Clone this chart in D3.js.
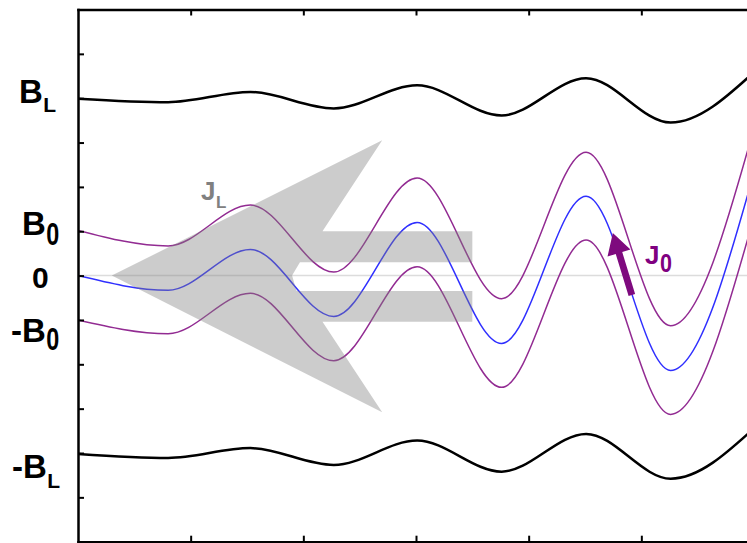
<!DOCTYPE html>
<html>
<head>
<meta charset="utf-8">
<title>field lines</title>
<script src="https://cdn.jsdelivr.net/npm/d3@7"></script>
<style>
  body { margin: 0; background: #fff; }
  svg { display: block; }
  text { font-family: "Liberation Sans", Arial, sans-serif; font-weight: bold; }
</style>
</head>
<body>
<svg id="chart" width="747" height="543"></svg>
<script>
// extrema positions (x in tick units, left axis = 0)
const xPoints   = [0, 0.80, 1.53, 2.27, 3.01, 3.76, 4.51, 5.26, 6.01];
// the five field lines, same x positions
const lineBL    = [3.99, 3.91, 4.14, 3.77, 4.29, 3.61, 4.45, 3.45, 4.61];
const lineB0    = [1.02, 0.67, 1.59, 0.08, 2.20, -0.52, 2.78, -1.13, 3.42];
const lineZero  = [0.00, -0.33, 0.59, -0.92, 1.20, -1.53, 1.79, -2.14, 2.42];
const lineNegB0 = [-1.00, -1.31, -0.40, -1.92, 0.20, -2.52, 0.80, -3.13, 1.42];
const lineNegBL = [-4.02, -4.11, -3.89, -4.27, -3.72, -4.42, -3.57, -4.58, -3.42];

const xTicks = [1, 2, 3, 4, 5, 6];
const yTicks = [-5, -4, -3, -2, -1, 0, 1, 2, 3, 4, 5];

// y axis labels: main text, subscript, value where it sits
const labelMain  = ["B", "B", "0", "-B", "-B"];
const labelSub   = ["L", "0", "", "0", "L"];
const labelValue = [4, 1, 0, -1, -4];

// big grey arrow J_L (data units) and the little J_0 arrow (tail, tip)
const arrowJL = [[0.30, 0], [2.70, 3.05], [2.17, 1.0], [3.50, 1.0], [3.50, 0.30],
                 [1.97, 0.30], [1.90, 0], [1.94, -0.35], [3.50, -0.35], [3.50, -1.04],
                 [2.17, -1.04], [2.70, -3.08]];
const arrowJ0 = [[4.916, -0.44], [4.747, 0.96]];

var svg = d3.select("#chart");

var x = d3.scaleLinear([0, 6], [78, 754]);
var y = d3.scaleLinear([-6, 6], [541.7, 9.5]);

// clip to the frame
svg.append("clipPath").attr("id", "plot")
  .append("rect").attr("x", 78).attr("y", 9.5).attr("width", 700).attr("height", 532.2);

var plot = svg.append("g").attr("clip-path", "url(#plot)");

// faint zero line
plot.append("line")
  .attr("x1", x(0)).attr("x2", x(6))
  .attr("y1", y(0)).attr("y2", y(0))
  .attr("stroke", "#dcdcdc").attr("stroke-width", 1.5);

var line = d3.line()
  .x(d => x(d[0]))
  .y(d => y(d[1]))
  .curve(d3.curveMonotoneX);

var series = [
  {v: lineBL,    color: "#000",    w: 2.5},
  {v: lineNegBL, color: "#000",    w: 2.5},
  {v: lineB0,    color: "#922b92", w: 1.5},
  {v: lineNegB0, color: "#922b92", w: 1.5},
  {v: lineZero,  color: "#2f2fff", w: 1.5}
];

plot.selectAll("path.field")
  .data(series)
  .join("path")
  .attr("class", "field")
  .attr("d", s => line(d3.zip(xPoints, s.v)))
  .attr("fill", "none")
  .attr("stroke", s => s.color)
  .attr("stroke-width", s => s.w);

// grey arrow laid over the lines
plot.append("path")
  .attr("d", "M" + arrowJL.map(p => x(p[0]) + "," + y(p[1])).join("L") + "Z")
  .attr("fill", "#808080")
  .attr("opacity", 0.4);

// J_0 arrow
var t0 = [x(arrowJ0[0][0]), y(arrowJ0[0][1])];
var t1 = [x(arrowJ0[1][0]), y(arrowJ0[1][1])];
var dx = t1[0] - t0[0], dy = t1[1] - t0[1], len = Math.hypot(dx, dy);
var ux = dx / len, uy = dy / len, nx = -uy, ny = ux;
var headL = 21, headW = 12, shaftW = 3.4;
var bx = t1[0] - ux * headL, by = t1[1] - uy * headL;
var pts = [
  [t0[0] + nx * shaftW, t0[1] + ny * shaftW],
  [bx + nx * shaftW, by + ny * shaftW],
  [bx + nx * headW, by + ny * headW],
  t1,
  [bx - nx * headW, by - ny * headW],
  [bx - nx * shaftW, by - ny * shaftW],
  [t0[0] - nx * shaftW, t0[1] - ny * shaftW]
];
plot.append("path")
  .attr("d", "M" + pts.map(p => p.join(",")).join("L") + "Z")
  .attr("fill", "#7e0a7e");

// axes, ticks pointing in, no numbers
function frame(g) {
  g.selectAll(".domain").attr("stroke-width", 2.5).attr("stroke-linecap", "square");
  g.selectAll(".tick line").attr("stroke-width", 2);
}
svg.append("g").attr("transform", "translate(78,0)")
  .call(d3.axisLeft(y).tickValues(yTicks).tickSizeInner(-6).tickSizeOuter(0).tickFormat(""))
  .call(frame);
svg.append("g").attr("transform", "translate(0,9.5)")
  .call(d3.axisTop(x).tickValues(xTicks).tickSizeInner(-6).tickSizeOuter(0).tickFormat(""))
  .call(frame);
svg.append("g").attr("transform", "translate(0,541.7)")
  .call(d3.axisBottom(x).tickValues(xTicks).tickSizeInner(-6).tickSizeOuter(0).tickFormat(""))
  .call(frame);

// main text plus a subscript right after it
function subLabel(px, py, main, mainSize, sub, subSize, subDy, color, zeroW) {
  var t = svg.append("text")
    .attr("x", px).attr("y", py)
    .attr("font-size", mainSize)
    .attr("fill", color)
    .text(main);
  if (!sub) return;
  var s = svg.append("text")
    .attr("x", px + t.node().getComputedTextLength() + 0.5)
    .attr("y", py + subDy)
    .attr("font-size", subSize)
    .attr("fill", color)
    .text(sub);
  // the zeros in the picture are tall and narrow
  if (zeroW) s.attr("textLength", zeroW).attr("lengthAdjust", "spacingAndGlyphs");
}

// label placement (left x, baseline offset from the value, font size, sub offset)
var labelX    = [19, 22, 32, 11, 12];
var labelDy   = [4.5, 4, 12.5, 22, 25];
var labelSize = [33, 33, 30, 33, 33];
var subDy     = [9, 10, 0, 8, 10];

labelMain.forEach((m, i) => {
  var isZero = labelSub[i] == "0";
  subLabel(labelX[i], y(labelValue[i]) + labelDy[i], m, labelSize[i],
           labelSub[i], isZero ? 32 : 21, subDy[i], "#000", isZero ? 13 : 0);
});

// J_L and J_0 names
subLabel(201, 200, "J", 26, "L", 17, 8, "#808080", 0);
subLabel(645, 264, "J", 26, "0", 26, 8, "#800080", 12);
</script>
</body>
</html>
